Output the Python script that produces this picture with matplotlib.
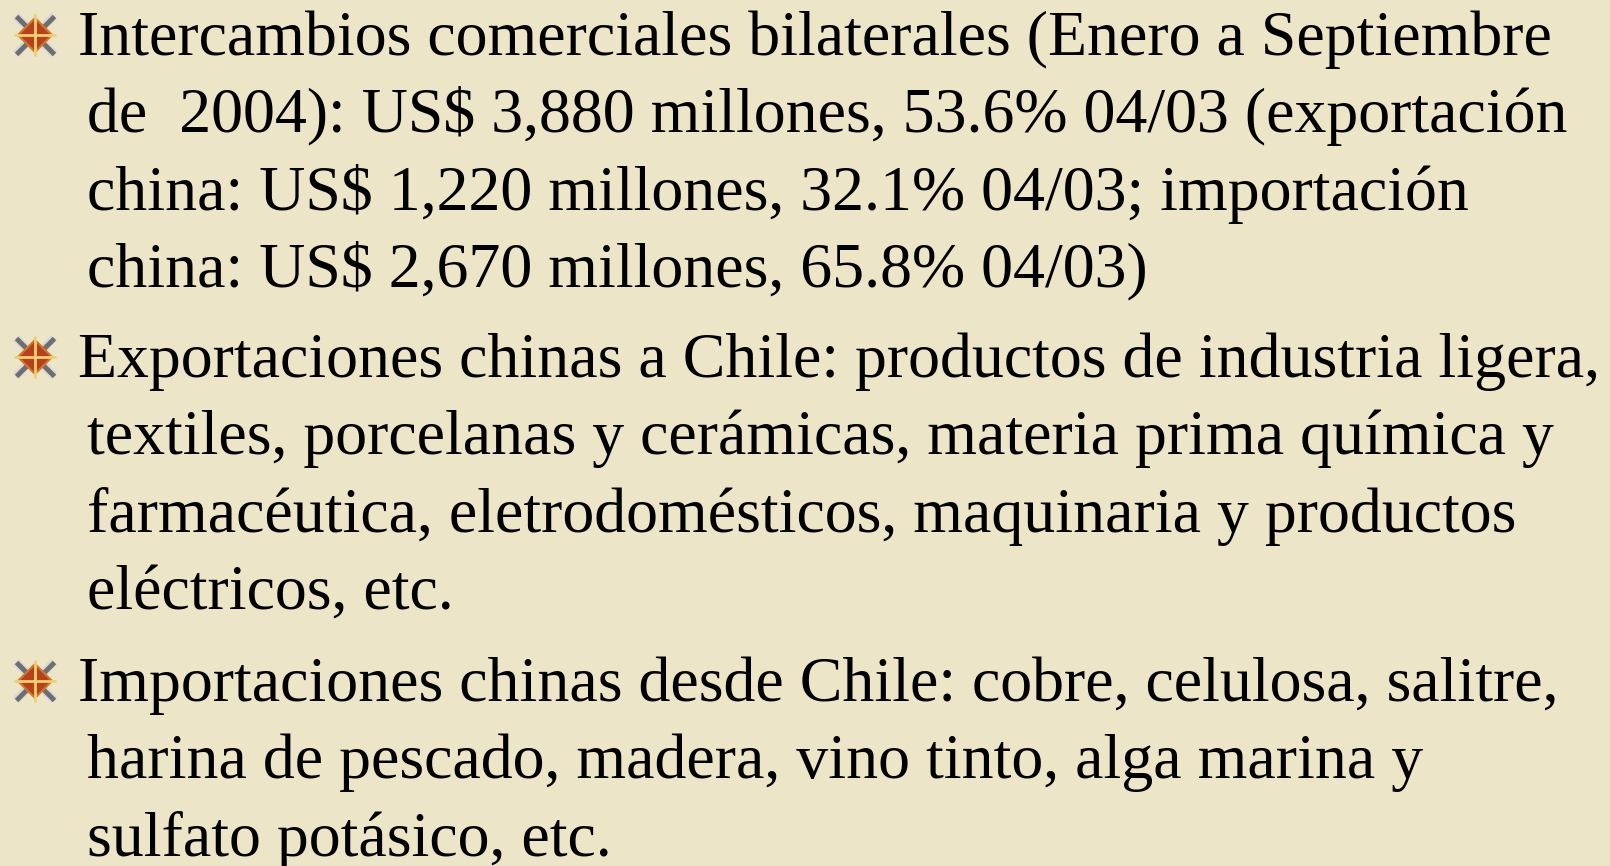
import matplotlib.pyplot as plt

# Texto de la diapositiva (cada viñeta es una lista de líneas)
bullet_1 = [
    'Intercambios comerciales bilaterales (Enero a Septiembre',
    'de  2004): US$ 3,880 millones, 53.6% 04/03 (exportación',
    'china: US$ 1,220 millones, 32.1% 04/03; importación',
    'china: US$ 2,670 millones, 65.8% 04/03)',
]
bullet_2 = [
    'Exportaciones chinas a Chile: productos de industria ligera,',
    'textiles, porcelanas y cerámicas, materia prima química y',
    'farmacéutica, eletrodomésticos, maquinaria y productos',
    'eléctricos, etc.',
]
bullet_3 = [
    'Importaciones chinas desde Chile: cobre, celulosa, salitre,',
    'harina de pescado, madera, vino tinto, alga marina y',
    'sulfato potásico, etc.',
]
paragraphs = [bullet_1, bullet_2, bullet_3]
first_baselines = [55, 377, 701]

W, H = 1610, 866
BG = '#ECE5C8'
LINE_STEP = 77.3
FONT = ['Liberation Serif', 'DejaVu Serif']


def draw_bullet(ax, x, y):
    # estrella: brazos grises en diagonal, cruz dorada y centro rojizo
    ax.plot(x, y, marker='x', ms=28, mew=6, color='#d8d8d8')
    ax.plot(x, y, marker='x', ms=27, mew=3.5, color='#6e6e6e')
    ax.plot(x, y, marker='D', ms=17, color='#b5421c', mec='#d0772e', mew=1.5)
    ax.plot(x, y, marker='+', ms=30, mew=2, color='#f0cf72')


def main():
    fig = plt.figure(figsize=(W / 100, H / 100), dpi=100)
    fig.patch.set_facecolor(BG)
    ax = fig.add_axes([0, 0, 1, 1])
    ax.set_facecolor(BG)
    ax.set_xlim(0, W)
    ax.set_ylim(H, 0)
    ax.axis('off')

    for lines, y0 in zip(paragraphs, first_baselines):
        draw_bullet(ax, 35, y0 - 20)
        for i, line in enumerate(lines):
            x = 78 if i == 0 else 87
            ax.text(x, y0 + i * LINE_STEP, line, fontsize=46, family=FONT,
                    color='black', va='baseline', ha='left')

    fig.savefig('out.png', dpi=100, facecolor=BG)


if __name__ == '__main__':
    main()
